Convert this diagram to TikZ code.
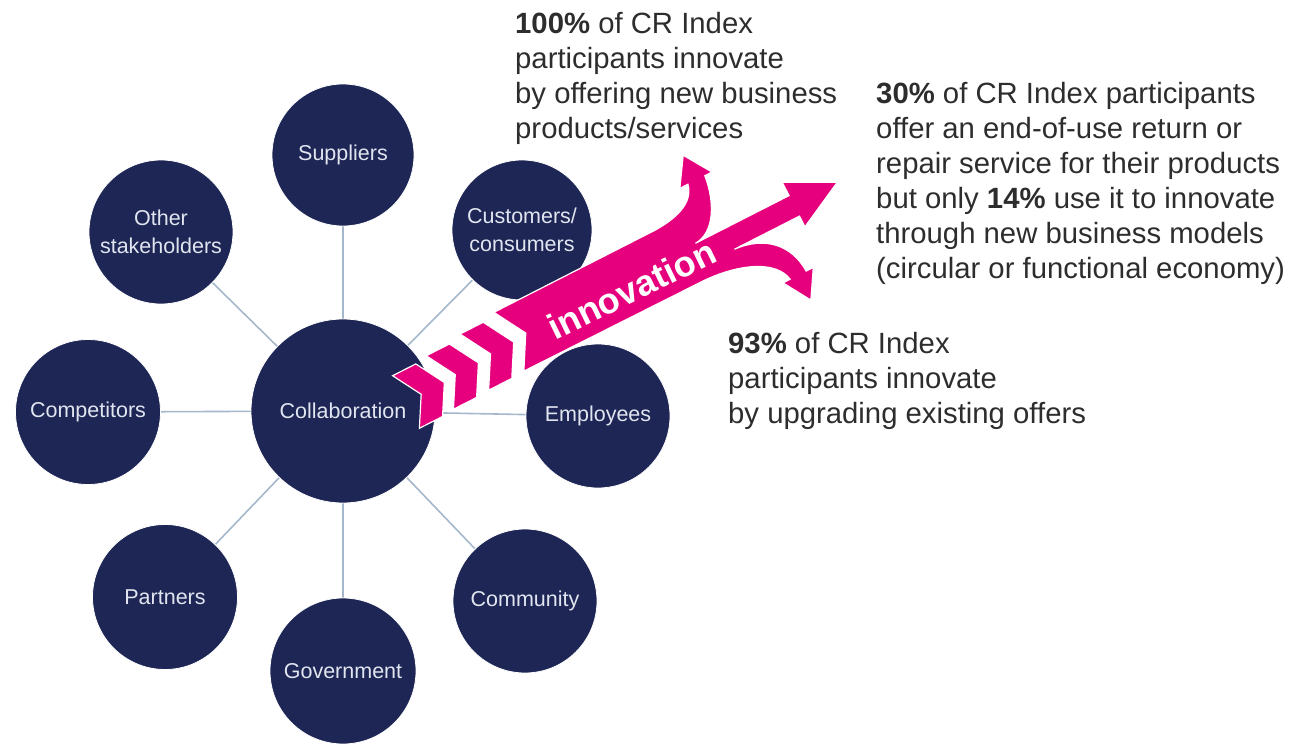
\documentclass[tikz,border=0pt]{standalone}
\usepackage{fontspec}
\setmainfont{Liberation Sans}
\definecolor{navy}{RGB}{29,38,84}
\definecolor{pinkc}{RGB}{230,0,126}
\definecolor{linec}{RGB}{165,183,203}
\definecolor{lbl}{RGB}{225,229,240}
\definecolor{txt}{RGB}{45,45,45}
\pgfdeclarelayer{bg}
\pgfsetlayers{bg,main}
\begin{document}
\begin{tikzpicture}[x=1pt,y=-1pt,
  hub/.style={circle, fill=navy, draw=white, line width=0.8pt, minimum size=#1, inner sep=0pt,
    text=lbl, font=\fontsize{21.5}{28}\selectfont, align=center},
  conn/.style={draw=linec, line width=1.6pt},
  stat/.style={anchor=north west, inner sep=0pt, align=left, text=txt,
    font=\fontsize{29.3}{35}\selectfont},
  arrowshape/.style={fill=pinkc, draw=white, line width=1.2pt, line join=miter}]
\useasboundingbox (0,0) rectangle (1291,744);

% circles
\node[hub=184] (collab) at (343,411) {Collaboration};
\node[hub=142] (supp)  at (343,155) {Suppliers};
\node[hub=144] (other) at (161,232) {Other\\stakeholders};
\node[hub=140] (cust)  at (522,230) {Customers/\\consumers};
\node[hub=145] (comp)  at (88,412)  {Competitors};
\node[hub=144] (empl)  at (598,416) {Employees};
\node[hub=145] (part)  at (165,597) {Partners};
\node[hub=144] (comm)  at (525,601) {Community};
\node[hub=146] (gov)   at (343,671) {Government};

\begin{pgfonlayer}{bg}
\foreach \n in {supp,other,cust,comp,empl,part,comm,gov}
  \draw[conn] (collab.center) -- (\n.center);
\end{pgfonlayer}

% innovation arrow (local frame: s along the band, t across it)
\begin{scope}[shift={(406,402)}, rotate=27, yscale=-1]
  % chevrons: back position, centre line, half height
  \foreach \b/\c/\h in {0/0/29.5, 39/2/30, 79/4.5/31.5}{
    \pgfmathsetmacro{\p}{0.577*\h}
    \fill[arrowshape] (\b,\c+\h) -- (\b+26,\c+\h) -- (\b+26+\p,\c)
      -- (\b+26,\c-\h) -- (\b,\c-\h) -- (\b+\p,\c) -- cycle;
  }
  \fill[arrowshape] (119,40) -- (300,40)
    .. controls (330,41) and (347,50) .. (350,66)
    -- (341,66) -- (359,94) -- (377,66) -- (369,66)
    .. controls (366,38) and (352,11) .. (330,10)
    -- (435,10) -- (435,25) -- (484,0) -- (435,-25) -- (435,-13)
    -- (362,-13)
    .. controls (395,-15) and (415,-35) .. (416,-65)
    -- (424,-65) -- (407,-93) -- (390,-65) -- (398,-65)
    .. controls (394,-42) and (360,-28) .. (320,-27)
    -- (119,-26) -- (138,7) -- cycle;
  \coordinate (innov) at (252,-2);
\end{scope}
\node[rotate=26, text=white, inner sep=0pt, font=\bfseries\fontsize{36}{36}\selectfont] (innovlbl) at (innov) {innovation};

% statistics texts
\node[stat] (t100) at (515,12) {\textbf{100\%} of CR Index\\participants innovate\\by offering new business\\products/services};
\node[stat] (t30) at (876,82.5) {\textbf{30\%} of CR Index participants\\offer an end-of-use return or\\repair service for their products\\but only \textbf{14\%} use it to innovate\\through new business models\\(circular or functional economy)};
\node[stat] (t93) at (728,332.5) {\textbf{93\%} of CR Index\\participants innovate\\by upgrading existing offers};
\end{tikzpicture}
\end{document}
